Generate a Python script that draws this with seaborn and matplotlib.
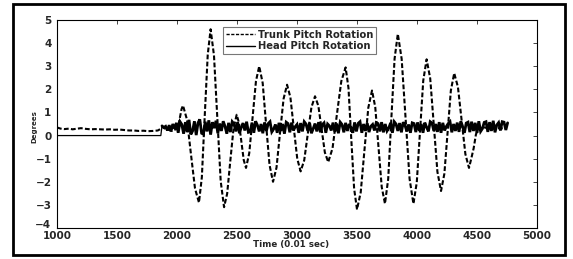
import numpy as np
import pandas as pd
import matplotlib
matplotlib.use("Agg")
import matplotlib.pyplot as plt
import matplotlib.transforms as mtransforms
import seaborn as sns
from matplotlib.patches import Rectangle

# Trunk pitch rotation (degrees)
trunk_time = [
    1000, 1030, 1060, 1100, 1130, 1170, 1200, 1240, 1280, 1320, 1360, 1400,
    1440, 1480, 1520, 1560, 1600, 1640, 1680, 1720, 1760, 1800, 1840, 1860,
    1880, 1900, 1930, 1960, 2000,
    2012, 2025, 2038, 2050, 2083, 2116, 2150, 2183, 2207, 2231, 2256, 2280,
    2308, 2336, 2364, 2392, 2418, 2444, 2471, 2497, 2516, 2536, 2556, 2575,
    2602, 2630, 2658, 2685, 2714, 2742, 2771, 2800, 2829, 2858, 2888, 2917,
    2945, 2973, 3002, 3030, 3060, 3090, 3120, 3150, 3178, 3205, 3232, 3260,
    3296, 3332, 3369, 3405, 3429, 3452, 3476, 3500, 3531, 3562, 3594, 3625,
    3652, 3679, 3706, 3733, 3760, 3786, 3813, 3840, 3872, 3905, 3938, 3970,
    3998, 4025, 4052, 4080, 4110, 4140, 4170, 4200, 4228, 4255, 4282, 4310,
    4341, 4372, 4403, 4433, 4452, 4472, 4491, 4510, 4560, 4620, 4680, 4750,
]
trunk_deg = [
    0.35, 0.30, 0.28, 0.30, 0.27, 0.30, 0.32, 0.29, 0.27, 0.28, 0.27, 0.26,
    0.27, 0.25, 0.26, 0.24, 0.22, 0.22, 0.20, 0.21, 0.19, 0.20, 0.22, 0.28,
    0.38, 0.30, 0.25, 0.20, 0.30,
    0.45, 0.80, 1.15, 1.30, 0.69, -0.80, -2.29, -2.90, -1.80, 0.85, 3.50, 4.60,
    3.47, 0.75, -1.97, -3.10, -2.51, -1.10, 0.31, 0.90, 0.56, -0.25, -1.06, -1.40,
    -0.76, 0.80, 2.36, 3.00, 2.27, 0.50, -1.27, -2.00, -1.39, 0.10, 1.59, 2.20,
    1.65, 0.33, -1.00, -1.55, -1.07, 0.08, 1.22, 1.70, 1.28, 0.28, -0.73, -1.15,
    -0.55, 0.90, 2.35, 2.95, 2.05, -0.13, -2.30, -3.20, -2.45, -0.63, 1.20, 1.95,
    1.23, -0.50, -2.23, -2.95, -1.87, 0.73, 3.32, 4.40, 3.32, 0.73, -1.87, -2.95,
    -2.03, 0.18, 2.38, 3.30, 2.47, 0.45, -1.57, -2.40, -1.65, 0.15, 1.95, 2.70,
    2.10, 0.65, -0.80, -1.40, -1.00, -0.55, 0.05, 0.30, 0.35, 0.30, 0.32, 0.30,
]

# Head pitch rotation: flat at zero, then a noisy band
head_flat_time = [1000, 1865, 1875]
head_flat_deg = [0.0, 0.0, 0.42]
head_noise_time = np.arange(1875, 4756, 15)
head_noise_deg = [
    0.42, 0.35, 0.40, 0.22, 0.45, 0.18, 0.50, 0.30, 0.55, 0.12,
    0.60, 0.48, 0.08, 0.58, 0.15, 0.68, 0.05, 0.20, 0.62, 0.02,
    0.55, 0.70, 0.10, 0.06, 0.60, 0.18, 0.66, 0.04, 0.58, 0.32,
    0.64, 0.10, 0.52, 0.20, 0.62, 0.40, 0.08, 0.55, 0.15, 0.60,
    0.50, 0.18, 0.58, 0.10, 0.35, 0.54, 0.22, 0.60, 0.14, 0.16,
    0.56, 0.12, 0.62, 0.45, 0.18, 0.50, 0.10, 0.57, 0.20, 0.52,
    0.60, 0.16, 0.28, 0.48, 0.12, 0.55, 0.20, 0.50, 0.08, 0.58,
    0.52, 0.14, 0.56, 0.22, 0.38, 0.48, 0.12, 0.54, 0.18, 0.60,
    0.50, 0.20, 0.55, 0.10, 0.30, 0.52, 0.18, 0.58, 0.14, 0.47,
    0.55, 0.12, 0.50, 0.42, 0.22, 0.56, 0.16, 0.52, 0.10, 0.58,
    0.48, 0.14, 0.55, 0.20, 0.50, 0.35, 0.12, 0.57, 0.18, 0.53,
    0.60, 0.12, 0.50, 0.20, 0.54, 0.15, 0.40, 0.48, 0.22, 0.56,
    0.52, 0.18, 0.58, 0.14, 0.50, 0.20, 0.33, 0.55, 0.12, 0.60,
    0.50, 0.20, 0.54, 0.14, 0.58, 0.44, 0.18, 0.48, 0.12, 0.55,
    0.52, 0.15, 0.57, 0.20, 0.50, 0.12, 0.56, 0.36, 0.18, 0.60,
    0.54, 0.20, 0.50, 0.16, 0.58, 0.12, 0.55, 0.22, 0.40, 0.52,
    0.60, 0.14, 0.50, 0.20, 0.56, 0.16, 0.62, 0.38, 0.12, 0.54,
    0.58, 0.15, 0.60, 0.20, 0.55, 0.12, 0.62, 0.18, 0.30, 0.57,
    0.60, 0.16, 0.58, 0.20, 0.64, 0.14, 0.46, 0.56, 0.22, 0.60,
    0.58, 0.24, 0.55,
]

x_ticks = [1000, 1500, 2000, 2500, 3000, 3500, 4000, 4500, 5000]
y_ticks = [-4, -3, -2, -1, 0, 1, 2, 3, 4, 5]

sns.set_style("white")
plt.rcParams['font.family'] = ['DejaVu Sans']
plt.rcParams['font.weight'] = 'bold'

fig = plt.figure(figsize=(5.73, 2.59), dpi=100)
ax = fig.add_axes([0.0995, 0.1197, 0.8377, 0.803])

sns.lineplot(x=trunk_time, y=trunk_deg, ax=ax, sort=False, estimator=None,
             color='black', linewidth=1.5, linestyle='--',
             label='Trunk Pitch Rotation')
ax.lines[-1].set_dashes((2.3, 1.1))
# flat part is thin, noisy part is a dense band
sns.lineplot(x=head_flat_time, y=head_flat_deg, ax=ax, sort=False,
             estimator=None, color='black', linewidth=0.9,
             label='Head Pitch Rotation')
sns.lineplot(x=head_noise_time, y=head_noise_deg, ax=ax, sort=False,
             estimator=None, color='black', linewidth=2.0, legend=False)
ax.lines[-1].set_solid_joinstyle('miter')

ax.set_xlim(1000, 5000)
ax.set_ylim(-4, 5)
ax.set_xticks(x_ticks)
ax.set_yticks(y_ticks)
ax.tick_params(direction='in', length=3, width=0.6, labelsize=7.5,
               top=True, right=True, pad=2)
ax.tick_params(axis='y', pad=4)
for s in ax.spines.values():
    s.set_color('black')
    s.set_linewidth(0.8)

# nudge the bottom y label up so it sits above "1000" like the original
lowest = ax.get_yticklabels()[0]
lowest.set_transform(lowest.get_transform() +
                     mtransforms.ScaledTranslation(0, 3.5 / 100, fig.dpi_scale_trans))

ax.set_xlabel('Time (0.01 sec)', fontsize=6.3, fontweight='bold')
ax.xaxis.set_label_coords(0.487, -0.058)
ax.set_ylabel('Degrees', fontsize=5, fontweight='bold')
ax.yaxis.set_label_coords(-0.04, 0.486)

handles, labels = ax.get_legend_handles_labels()
leg = ax.legend(handles[:2], labels[:2], loc='upper left',
                bbox_to_anchor=(0.346, 0.967), fontsize=7.2,
                frameon=True, fancybox=False, handlelength=2.9,
                handletextpad=0.3, borderpad=0.3, labelspacing=0.15,
                borderaxespad=0)
leg.get_frame().set_edgecolor('#555555')
leg.get_frame().set_linewidth(0.8)
for h in leg.get_lines():
    h.set_linewidth(1.0)

fig.patches.append(Rectangle((13 / 573, 4 / 259), 552 / 573, 251 / 259,
                             transform=fig.transFigure, fill=False,
                             edgecolor='black', linewidth=2.0))

fig.savefig('out.png', dpi=100)
